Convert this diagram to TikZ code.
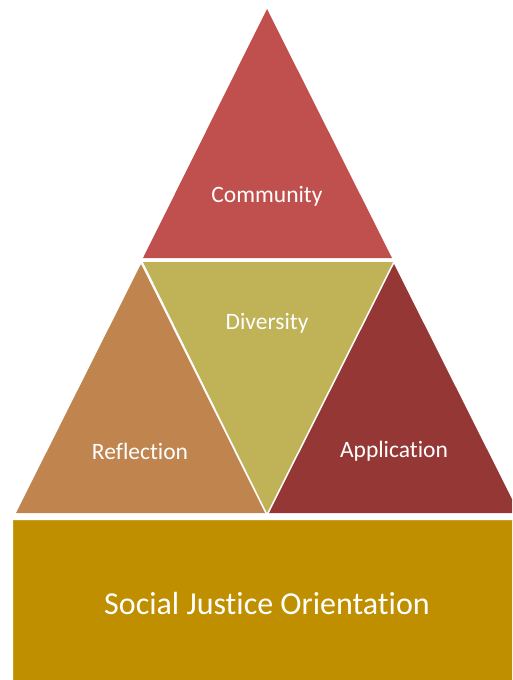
\documentclass[tikz,border=0pt]{standalone}
\usepackage{fontspec}
\setmainfont{Carlito}[Ligatures=NoCommon]
\usepackage{tikz}

\definecolor{commred}{HTML}{C0504D}
\definecolor{divolive}{HTML}{BFB257}
\definecolor{reflbrown}{HTML}{C0844F}
\definecolor{appmaroon}{HTML}{953735}
\definecolor{basegold}{HTML}{BF8F00}

\begin{document}
\begin{tikzpicture}[x=1pt,y=-1pt,
  label/.style={text=white,font=\fontsize{23.5}{28}\selectfont},
  biglabel/.style={text=white,font=\fontsize{32}{38}\selectfont}]
\clip (0,0) rectangle (512,680);
% base block
\fill[basegold,draw=basegold!85!white,line width=0.8pt] (13,520) rectangle (530,700);
\node[biglabel] (sjo) at (267,604) {Social Justice Orientation};
% the four triangles
\fill[commred] (267,9) -- (143,258) -- (392,258) -- cycle;
\fill[divolive] (143,262) -- (393,262) -- (267,513) -- cycle;
\fill[reflbrown] (141,264) -- (16,513) -- (265,513) -- cycle;
\fill[appmaroon] (394,264) -- (269,513) -- (519,513) -- cycle;
\node[label] (comm) at (267,196) {Community};
\node[label] (div) at (267,323) {Diversity};
\node[label] (refl) at (140,451) {Reflection};
\node[label] (app) at (394,451) {Application};
\end{tikzpicture}
\end{document}
